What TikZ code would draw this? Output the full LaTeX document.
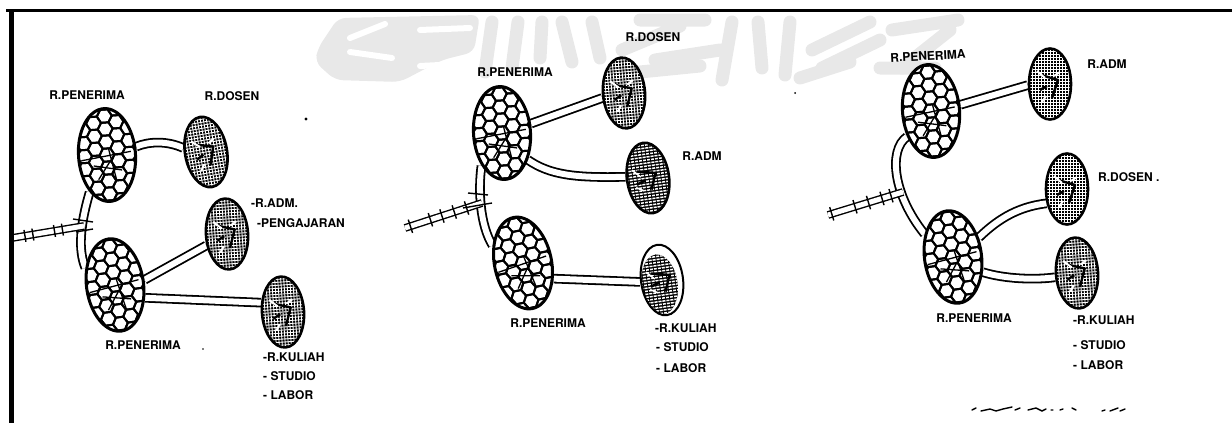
\documentclass[tikz,border=0pt]{standalone}
\usepackage{fontspec}
\setmainfont{TeX Gyre Heros}
\usetikzlibrary{shapes.geometric,decorations.markings,backgrounds}
\newcommand{\hexfield}{%
  \begin{scope}[shift={(path picture bounding box.center)},line width=2pt,draw=black]
    \foreach \cc in {-4,...,4}{\foreach \rr in {-5,...,5}{%
      \pgfmathsetmacro{\hx}{\cc*11.25}%
      \pgfmathsetmacro{\hy}{(\rr+0.5*abs(mod(\cc,2)))*13}%
      \draw (\hx,\hy) ++(0:7.5) -- ++(120:7.5) -- ++(180:7.5) -- ++(240:7.5) -- ++(300:7.5) -- ++(0:7.5) -- cycle;
    }}
    \draw[line width=1.3pt] (-26,4) -- (24,-2) (-14,10) -- (14,16) (2,-6) -- (8,26) (-10,24) -- (6,2);
  \end{scope}}
\newcommand{\crossfield}{%
  \begin{scope}[shift={(path picture bounding box.center)}]
    \fill[black] (-40,-50) rectangle (40,50);
    \foreach \kk in {-48,-45,...,48}{\draw[white,line width=.85pt] (-40,\kk) -- (40,\kk);}
    \foreach \kk in {-39,-36,...,39}{\draw[white,line width=.85pt] (\kk,-50) -- (\kk,50);}
    \draw[black,line width=2.4pt,line join=round] (-9,-9) -- (8,-4) -- (2,14) (-10,6) -- (-3,2);
    \draw[white,line width=2pt] (-13,-13) -- (-5,-6) (10,-12) -- (4,-8) (-4,12) -- (-8,18);
  \end{scope}}
\newcommand{\linefield}{%
  \begin{scope}[shift={(path picture bounding box.center)}]
    \fill[black] (-40,-50) rectangle (40,50);
    \foreach \kk in {-48,-45,...,48}{\draw[white,line width=1.5pt] (-40,\kk) -- (40,\kk);}
    \foreach \kk in {-39,-35,...,39}{\draw[black,line width=.8pt] (\kk,-50) -- (\kk,50);}
    \draw[black,line width=2.4pt,line join=round] (-10,-8) -- (8,-4) -- (2,12) (-12,5) -- (-3,2);
    \draw[white,line width=1.6pt] (-15,-10) -- (-7,-2) (-13,8) -- (-6,12);
  \end{scope}}
\tikzset{
  roombase/.style={ellipse,draw=black,fill=white,inner sep=0pt},
  hexroom/.style={roombase,line width=3pt,minimum width=57pt,minimum height=93pt,path picture={\hexfield}},
  crossroom/.style={roombase,line width=2.6pt,minimum width=42pt,minimum height=71pt,path picture={\crossfield}},
  lineroom/.style={roombase,line width=2.6pt,minimum width=42pt,minimum height=71pt,path picture={\linefield}},
  crescentroom/.style={roombase,line width=2pt,minimum width=42pt,minimum height=71pt,path picture={%
    \begin{scope}[shift={(path picture bounding box.center)}]
      \clip (-3,4) ellipse (18 and 30);
      \linefield
    \end{scope}}},
  pipe/.style={draw=black,line width=1.8pt,double=white,double distance=6pt},
  rail/.style={draw=black,line width=1.4pt,double=white,double distance=5pt},
  railtie/.style={draw=black,line width=1.4pt},
  lettering/.style={font=\bfseries\fontsize{12}{13}\selectfont,inner sep=0pt,text=black},
  framing/.style={draw=black,line cap=butt},
  blotch/.style={draw=black!9,line width=13pt,line cap=round,line join=round},
  blotchcut/.style={draw=white,line width=6pt,line cap=round},
  speck/.style={draw=black,line width=1.4pt,line cap=round}
}
\begin{document}
\begin{tikzpicture}[x=1pt,y=-1pt]
\useasboundingbox (0,0) rectangle (1232,423);
% rooms: left
\node[hexroom,rotate=4] (La) at (107,155) {};
\node[hexroom,rotate=8] (Lb) at (115,285) {};
\node[crossroom,rotate=10] (Lc) at (206,152) {};
\node[crossroom,rotate=4] (Ld) at (227,234) {};
\node[crossroom,rotate=4] (Le) at (283,312) {};
% rooms: middle
\node[hexroom,rotate=4] (Ma) at (502,133) {};
\node[hexroom,rotate=12] (Mb) at (523,263) {};
\node[crossroom,rotate=5] (Mc) at (624,93) {};
\node[lineroom,rotate=8] (Md) at (648,178) {};
\node[crescentroom,rotate=8] (Me) at (662,280) {};
% rooms: right
\node[hexroom,rotate=5] (Ra) at (931,111) {};
\node[hexroom,rotate=8] (Rb) at (953,257) {};
\node[crossroom,rotate=0] (Rc) at (1050,84) {};
\node[crossroom,rotate=0] (Rd) at (1067,189) {};
\node[crossroom,rotate=4] (Re) at (1077,273) {};
% entrance end points
\coordinate (LgA) at (12,238);
\coordinate (LgB) at (84,226);
\coordinate (MgA) at (405,228);
\coordinate (MgB) at (482,203);
\coordinate (RgA) at (828,215);
\coordinate (RgB) at (903,192);
\begin{pgfonlayer}{background}
  % watermark
  \fill[black!9,rounded corners=8pt] (318,48) -- (338,18) -- (480,15) -- (474,52) -- (442,60) -- (400,82) -- (335,80) -- (315,62) -- cycle;
  \draw[blotchcut] (350,38) -- (385,24) (350,52) -- (392,58) (420,66) -- (460,64) (420,30) -- (470,28);
  \draw[blotch] (492,22) -- (485,72) (518,22) -- (512,68) (542,22) -- (540,58) (562,22) -- (572,62) (592,22) -- (600,58);
  \draw[blotch] (622,50) -- (680,26) (640,20) -- (705,20) (655,60) -- (720,50) (732,22) -- (722,80);
  \draw[blotch] (758,22) -- (762,68) (790,22) -- (785,75) (812,50) -- (870,22) (822,68) -- (880,40) (892,30) -- (958,20) (902,68) -- (950,30);
  \draw[blotch] (640,72) -- (700,66) (800,78) -- (850,62) (880,68) -- (935,68);
  % connectors: left
  \draw[pipe] (La.12) .. controls (150,141) and (168,141) .. (Lc.160);
  \draw[pipe] (Lb.2) -- (Ld.205);
  \draw[pipe] (Lb.-31) -- (Le.153);
  \draw[pipe] (La.241) .. controls (80,225) and (78,250) .. (Lb.142);
  % connectors: middle
  \draw[pipe] (Ma.14) -- (Mc.188);
  \draw[pipe] (Ma.-50) .. controls (550,175) and (575,178) .. (Md.169);
  \draw[pipe] (Mb.-39) -- (Me.177);
  \draw[pipe] (Ma.234) .. controls (478,190) and (480,225) .. (Mb.138);
  % connectors: right
  \draw[pipe] (Ra.7) -- (Rc.183);
  \draw[pipe] (Rb.29) .. controls (995,222) and (1015,207) .. (Rd.215);
  \draw[pipe] (Rb.-35) .. controls (1005,279) and (1035,280) .. (Re.187);
  \draw[pipe] (Ra.222) .. controls (888,150) and (893,195) .. (Rb.133);
\end{pgfonlayer}
% entrances
\draw[rail] (LgA) -- (LgB);
\path[decoration={markings,
  mark=at position .18 with {\draw[railtie] (0,-6) -- (0,6);},
  mark=at position .29 with {\draw[railtie] (0,-6) -- (0,6);},
  mark=at position .59 with {\draw[railtie] (0,-6) -- (0,6);},
  mark=at position .70 with {\draw[railtie] (0,-6) -- (0,6);}},decorate] (LgA) -- (LgB);
\draw[railtie] (73,219) -- (93,222) (76,232) -- (93,229);
\draw[rail] (MgA) -- (MgB);
\path[decoration={markings,
  mark=at position .07 with {\draw[railtie] (0,-7) -- (0,7);},
  mark=at position .33 with {\draw[railtie] (0,-7) -- (0,7);},
  mark=at position .48 with {\draw[railtie] (0,-7) -- (0,7);},
  mark=at position .64 with {\draw[railtie] (0,-7) -- (0,7);},
  mark=at position .80 with {\draw[railtie] (0,-7) -- (0,7);}},decorate] (MgA) -- (MgB);
\draw[railtie] (468,193) -- (488,195) (463,208) -- (492,203);
\draw[rail] (RgA) -- (RgB);
\path[decoration={markings,
  mark=at position .05 with {\draw[railtie] (0,-7) -- (0,7);},
  mark=at position .36 with {\draw[railtie] (0,-7) -- (0,7);},
  mark=at position .54 with {\draw[railtie] (0,-7) -- (0,7);},
  mark=at position .72 with {\draw[railtie] (0,-7) -- (0,7);},
  mark=at position .84 with {\draw[railtie] (0,-7) -- (0,7);}},decorate] (RgA) -- (RgB);
% frame
\draw[framing,line width=5pt] (11,9) -- (11,423);
\draw[framing,line width=3pt] (6,10.5) -- (1232,10.5);
% labels: left
\node[lettering] (t1) at (87,95) {R.PENERIMA};
\node[lettering] (t2) at (232,96) {R.DOSEN};
\node[lettering,anchor=west] (t3) at (251,203) {-R.ADM.};
\node[lettering,anchor=west] (t4) at (257,223) {-PENGAJARAN};
\node[lettering] (t5) at (143,345) {R.PENERIMA};
\node[lettering,anchor=west] (t6) at (263,357) {-R.KULIAH};
\node[lettering,anchor=west] (t7) at (263,376) {- STUDIO};
\node[lettering,anchor=west] (t8) at (263,395) {- LABOR};
% labels: middle
\node[lettering] (t9) at (515,72) {R.PENERIMA};
\node[lettering] (t10) at (653,37) {R.DOSEN};
\node[lettering] (t11) at (702,156) {R.ADM};
\node[lettering] (t12) at (548,323) {R.PENERIMA};
\node[lettering,anchor=west] (t13) at (655,328) {-R.KULIAH};
\node[lettering,anchor=west] (t14) at (656,347) {- STUDIO};
\node[lettering,anchor=west] (t15) at (656,368) {- LABOR};
% labels: right
\node[lettering,rotate=3] (t16) at (928,56) {R.PENERIMA};
\node[lettering] (t17) at (1107,64) {R.ADM};
\node[lettering,anchor=west] (t18) at (1098,177) {R.DOSEN .};
\node[lettering] (t19) at (974,318) {R.PENERIMA};
\node[lettering,anchor=west] (t20) at (1073,320) {-R.KULIAH};
\node[lettering,anchor=west] (t21) at (1073,345) {- STUDIO};
\node[lettering,anchor=west] (t22) at (1073,365) {- LABOR};
% specks
\fill (306,119) circle (1.6);
\fill (203,349) circle (.8);
\fill (795,93) circle (1);
\draw[speck] (972,410) -- (976,408) (981,411) -- (990,409) -- (996,411) -- (1003,409) -- (1012,407) (1015,410) -- (1020,408)
  (1028,410) -- (1036,408) -- (1042,411) -- (1046,409) (1051,410) -- (1053,410) (1060,410) -- (1063,409) (1072,408) -- (1076,410)
  (1102,411) -- (1105,410) (1110,411) -- (1118,408) (1120,411) -- (1125,409);
\end{tikzpicture}
\end{document}
